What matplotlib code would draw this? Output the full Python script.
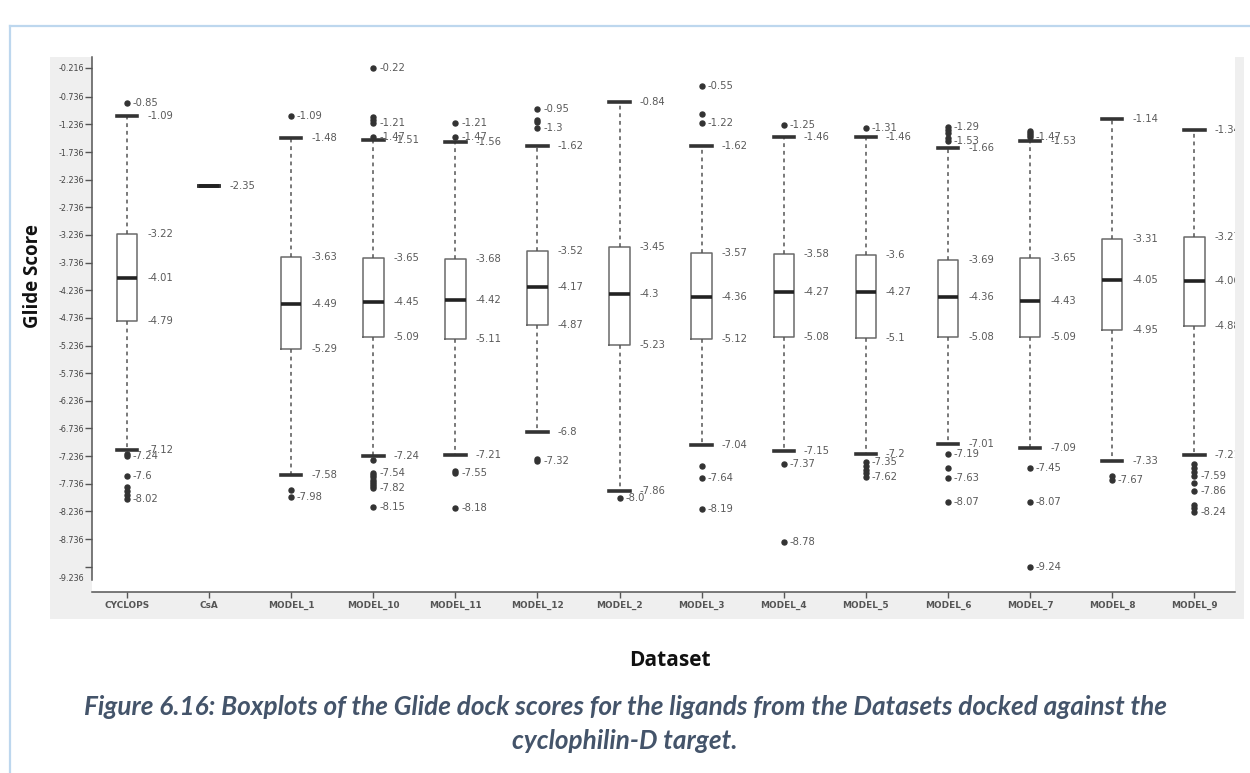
import matplotlib
matplotlib.use("Agg")
import matplotlib.pyplot as plt
from matplotlib.patches import Rectangle
from matplotlib.lines import Line2D
from matplotlib.transforms import ScaledTranslation
import numpy as np

# ---- data -------------------------------------------------------------
datasets = ["CYCLOPS", "CsA", "MODEL_1", "MODEL_10", "MODEL_11", "MODEL_12",
            "MODEL_2", "MODEL_3", "MODEL_4", "MODEL_5", "MODEL_6", "MODEL_7",
            "MODEL_8", "MODEL_9"]

whisker_high = [-1.09, -2.35, -1.48, -1.51, -1.56, -1.62, -0.84, -1.62,
                -1.46, -1.46, -1.66, -1.53, -1.14, -1.34]
box_top = [-3.22, -2.35, -3.63, -3.65, -3.68, -3.52, -3.45, -3.57,
           -3.58, -3.60, -3.69, -3.65, -3.31, -3.27]
medians = [-4.01, -2.35, -4.49, -4.45, -4.42, -4.17, -4.30, -4.36,
           -4.27, -4.27, -4.36, -4.43, -4.05, -4.06]
box_bottom = [-4.79, -2.35, -5.29, -5.09, -5.11, -4.87, -5.23, -5.12,
              -5.08, -5.10, -5.08, -5.09, -4.95, -4.88]
whisker_low = [-7.12, -2.35, -7.58, -7.24, -7.21, -6.80, -7.86, -7.04,
               -7.15, -7.20, -7.01, -7.09, -7.33, -7.21]

outliers_high = [
    [-0.85],
    [],
    [-1.09],
    [-0.22, -1.11, -1.16, -1.21, -1.47],
    [-1.21, -1.47],
    [-0.95, -1.15, -1.19, -1.30],
    [],
    [-0.55, -1.05, -1.22],
    [-1.25],
    [-1.31],
    [-1.29, -1.34, -1.39, -1.49, -1.53],
    [-1.35, -1.39, -1.43, -1.47],
    [],
    [],
]
outliers_low = [
    [-7.19, -7.24, -7.60, -7.80, -7.86, -7.93, -8.02],
    [],
    [-7.84, -7.98],
    [-7.30, -7.54, -7.58, -7.62, -7.66, -7.70, -7.74, -7.78, -7.82, -8.15],
    [-7.50, -7.55, -8.18],
    [-7.28, -7.32],
    [-8.00],
    [-7.42, -7.64, -8.19],
    [-7.37, -8.78],
    [-7.35, -7.42, -7.49, -7.55, -7.62],
    [-7.19, -7.45, -7.63, -8.07],
    [-7.45, -8.07, -9.24],
    [-7.60, -7.67],
    [-7.38, -7.45, -7.52, -7.59, -7.72, -7.86, -8.12, -8.18, -8.24],
]
labelled_outliers = [
    [-0.85, -7.24, -7.60, -8.02],
    [],
    [-1.09, -7.98],
    [-0.22, -1.21, -1.47, -7.54, -7.82, -8.15],
    [-1.21, -1.47, -7.55, -8.18],
    [-0.95, -1.30, -7.32],
    [-8.00],
    [-0.55, -1.22, -7.64, -8.19],
    [-1.25, -7.37, -8.78],
    [-1.31, -7.35, -7.62],
    [-1.29, -1.53, -7.19, -7.63, -8.07],
    [-1.47, -7.45, -8.07, -9.24],
    [-7.67],
    [-7.59, -7.86, -8.24],
]

y_ticks = [-0.216, -0.736, -1.236, -1.736, -2.236, -2.736, -3.236, -3.736,
           -4.236, -4.736, -5.236, -5.736, -6.236, -6.736, -7.236, -7.736,
           -8.236, -8.736, -9.236]


def fmt(v):
    s = f"{v:.2f}".rstrip("0")
    if s.endswith("."):
        s += "0"
    return s


# ---- figure -----------------------------------------------------------
W, H = 1250, 773
fig = plt.figure(figsize=(W / 100, H / 100), dpi=100)
fig.patch.set_facecolor("white")

# page frame
frame_c = "#bdd7ee"
fig.add_artist(Line2D([10 / W, 10 / W], [0, 1 - 26 / H], transform=fig.transFigure,
                      color=frame_c, lw=1.6))
fig.add_artist(Line2D([10 / W, 1], [1 - 26 / H, 1 - 26 / H], transform=fig.transFigure,
                      color=frame_c, lw=1.6))

# grey chart panel
fig.add_artist(Rectangle((50 / W, 1 - 619 / H), (1244 - 50) / W, (619 - 57) / H,
                         transform=fig.transFigure, facecolor="#efefef",
                         edgecolor="none", zorder=0))

ax = fig.add_axes([92 / W, 1 - 592 / H, (1235 - 92) / W, (592 - 57) / H])
ax.set_facecolor("white")

stats = []
for i, name in enumerate(datasets):
    stats.append(dict(
        label=name,
        med=medians[i],
        q1=box_bottom[i],
        q3=box_top[i],
        whislo=whisker_low[i],
        whishi=whisker_high[i],
        fliers=np.array(outliers_high[i] + outliers_low[i]),
    ))

positions = np.arange(len(datasets))
ax.bxp(stats, positions=positions, widths=0.25, capwidths=0.25,
       showfliers=True, patch_artist=False,
       boxprops=dict(color="#6a6a6a", linewidth=1.1),
       whiskerprops=dict(color="#555555", linewidth=1.1, linestyle=(0, (2.5, 2.5))),
       capprops=dict(color="#333333", linewidth=2.6),
       medianprops=dict(color="#222222", linewidth=2.6),
       flierprops=dict(marker="o", markersize=3.6, markerfacecolor="#333333",
                       markeredgecolor="#333333", linestyle="none"))

label_kw = dict(fontsize=7.2, color="#5a5a5a", va="center", ha="left", clip_on=True)
for i in positions:
    vals = [whisker_high[i], box_top[i], medians[i], box_bottom[i], whisker_low[i]]
    for v in sorted(set(vals)):
        ax.text(i + 0.245, v, fmt(v), **label_kw)
    for v in labelled_outliers[i]:
        ax.text(i + 0.07, v, fmt(v), **label_kw)

ax.set_xlim(-0.426, 13.496)
ax.set_ylim(-9.693, -0.018)

ax.set_yticks(y_ticks)
ax.set_yticklabels([f"{t:.3f}" for t in y_ticks])
ax.set_xticks(positions)
ax.set_xticklabels(datasets)

for side in ("top", "right"):
    ax.spines[side].set_visible(False)
for side in ("left", "bottom"):
    ax.spines[side].set_color("#555555")
    ax.spines[side].set_linewidth(1.1)
ax.spines["left"].set_bounds(-9.48, -0.018)

ax.tick_params(axis="y", direction="out", length=5, width=1, color="#555555",
               labelsize=5.8, labelcolor="#444444", pad=0.5)
ax.tick_params(axis="x", direction="out", length=4, width=1, color="#555555",
               labelsize=6.4, labelcolor="#555555", pad=2.5)
for lbl in ax.get_xticklabels():
    lbl.set_fontweight("bold")
last = ax.get_yticklabels()[-1]
last.set_transform(last.get_transform() + ScaledTranslation(0, -0.11, fig.dpi_scale_trans))

# axis titles
fig.text(33 / W, 1 - 276 / H, "Glide Score", rotation=90, ha="center", va="center",
         fontsize=13.5, fontweight="bold", family="Open Sans", color="#111111")
fig.text(670 / W, 1 - 660 / H, "Dataset", ha="center", va="center",
         fontsize=15, fontweight="bold", family="Open Sans", color="#111111")

# caption
cap_kw = dict(ha="center", va="center", fontsize=18.8, fontweight="bold",
              style="italic", family="Lato", color="#44546a")
fig.text(625 / W, 1 - 707 / H,
         "Figure 6.16: Boxplots of the Glide dock scores for the ligands from the "
         "Datasets docked against the", **cap_kw)
fig.text(625 / W, 1 - 741 / H, "cyclophilin-D target.", **cap_kw)

fig.savefig("out.png", dpi=100, facecolor="white")
